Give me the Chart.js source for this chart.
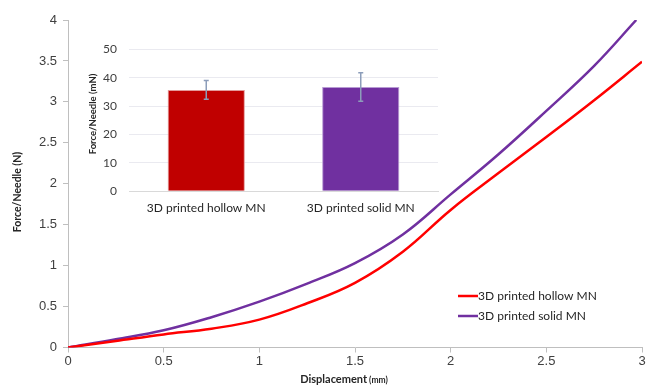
<!DOCTYPE html>
<html>
<head>
<meta charset="utf-8">
<script src="https://cdn.jsdelivr.net/npm/chart.js@4"></script>
<style>
  html, body { margin: 0; padding: 0; background: #ffffff; }
  #wrap { position: relative; width: 648px; height: 386px; }
  #main { position: absolute; left: 0; top: 0; }
  #inset { position: absolute; left: 85px; top: 38px; }
</style>
</head>
<body>
<div id="wrap">
  <canvas id="main" width="648" height="386"></canvas>
  <canvas id="inset" width="358" height="182"></canvas>
</div>
<script>
// ---- data ----
const seriesNames = ['3D printed hollow MN', '3D printed solid MN'];
const displacementHollow = [0, 0.25, 0.5, 0.75, 1, 1.25, 1.5, 1.75, 2, 2.25, 2.5, 2.75, 3];
const forceHollow        = [0, 0.08, 0.16, 0.23, 0.34, 0.54, 0.79, 1.17, 1.68, 2.13, 2.57, 3.02, 3.49];
const displacementSolid  = [0, 0.25, 0.5, 0.75, 1, 1.25, 1.5, 1.75, 2, 2.25, 2.5, 2.75, 2.97];
const forceSolid         = [0, 0.10, 0.21, 0.37, 0.56, 0.78, 1.03, 1.38, 1.87, 2.36, 2.89, 3.44, 4.0];
const xTicks = [0, 0.5, 1, 1.5, 2, 2.5, 3];
const yTicks = [0, 0.5, 1, 1.5, 2, 2.5, 3, 3.5, 4];

const barCategories = ['3D printed hollow MN', '3D printed solid MN'];
const barMeans = [35.7, 36.7];
const barErrors = [3.3, 5.0];
const barTicks = [0, 10, 20, 30, 40, 50];

const RED = '#FF0000', PURPLE = '#7030A0';
const BAR_RED = '#C00000';
const TEXT = '#404040', TITLE = '#262626', AXIS = '#BFBFBF';
const SANS = '"Liberation Sans", Arial, sans-serif';
const CAL = 'Lato, "Open Sans", sans-serif';

function pts(xs, ys) { return xs.map((x, i) => ({ x: x, y: ys[i] })); }

// ---- main chart ----
const mainDecor = {
  id: 'mainDecor',
  afterDraw(chart) {
    const ctx = chart.ctx;
    ctx.save();
    ctx.fillStyle = TITLE;
    ctx.font = 'bold 10.5px ' + CAL;
    ctx.textAlign = 'center';
    ctx.textBaseline = 'middle';
    ctx.translate(18, 192);
    ctx.rotate(-Math.PI / 2);
    ctx.fillText('Force/Needle (N)', 0, 0);
    ctx.restore();
    ctx.save();
    ctx.fillStyle = TITLE;
    ctx.textBaseline = 'alphabetic';
    const t1 = 'Displacement', t2 = ' (mm)';
    ctx.font = 'bold 11px ' + CAL;
    const w1 = ctx.measureText(t1).width;
    ctx.font = 'bold 8.5px ' + CAL;
    const w2 = ctx.measureText(t2).width;
    const cx = 344;
    const x0 = cx - (w1 + w2) / 2;
    ctx.textAlign = 'left';
    ctx.font = 'bold 11px ' + CAL;
    ctx.fillText(t1, x0, 383);
    ctx.font = 'bold 8.5px ' + CAL;
    ctx.fillText(t2, x0 + w1, 383);
    ctx.restore();
    ctx.save();
    ctx.font = '12px ' + CAL;
    ctx.textAlign = 'left';
    ctx.textBaseline = 'middle';
    chart.data.datasets.forEach((ds, i) => {
      const y = 296 + i * 20;
      ctx.strokeStyle = ds.borderColor;
      ctx.lineWidth = 2.5;
      ctx.beginPath();
      ctx.moveTo(458, y);
      ctx.lineTo(478, y);
      ctx.stroke();
      ctx.fillStyle = TITLE;
      ctx.fillText(ds.label, 478, y);
    });
    ctx.restore();
  }
};

new Chart(document.getElementById('main'), {
  type: 'line',
  data: {
    datasets: [
      { label: seriesNames[0], data: pts(displacementHollow, forceHollow), borderColor: RED, backgroundColor: RED,
        borderWidth: 2.5, pointRadius: 0, tension: 0.4, fill: false },
      { label: seriesNames[1], data: pts(displacementSolid, forceSolid), borderColor: PURPLE, backgroundColor: PURPLE,
        borderWidth: 2.5, pointRadius: 0, tension: 0.4, fill: false }
    ]
  },
  options: {
    responsive: false,
    animation: false,
    devicePixelRatio: 1,
    layout: { padding: { left: 0, right: 6, top: 20, bottom: 0 } },
    plugins: { legend: { display: false }, tooltip: { enabled: false } },
    scales: {
      x: {
        type: 'linear', min: 0, max: 3,
        afterBuildTicks: s => { s.ticks = xTicks.map(v => ({ value: v })); },
        afterFit: s => { s.height = 38.5; },
        grid: { drawOnChartArea: false, drawTicks: true, tickLength: 5, color: AXIS },
        border: { color: AXIS, width: 1 },
        ticks: { color: TEXT, font: { family: SANS, size: 13 }, padding: 1, maxRotation: 0,
                 callback: v => String(v) }
      },
      y: {
        type: 'linear', min: 0, max: 4,
        afterBuildTicks: s => { s.ticks = yTicks.map(v => ({ value: v })); },
        afterFit: s => { s.width = 68; },
        grid: { drawOnChartArea: false, drawTicks: true, tickLength: 5, color: AXIS },
        border: { color: AXIS, width: 1 },
        ticks: { color: TEXT, font: { family: SANS, size: 13 }, padding: 6,
                 callback: v => String(v) }
      }
    }
  },
  plugins: [mainDecor]
});

// ---- inset bar chart ----
const insetDecor = {
  id: 'insetDecor',
  afterDatasetsDraw(chart) {
    const ctx = chart.ctx;
    const xs = chart.scales.x, ys = chart.scales.y;
    ctx.save();
    ctx.strokeStyle = '#8C9DBA';
    ctx.lineWidth = 1.5;
    barMeans.forEach((m, i) => {
      const x = xs.getPixelForValue(i);
      const yTop = ys.getPixelForValue(m + barErrors[i]);
      const yBot = ys.getPixelForValue(m - barErrors[i]);
      ctx.beginPath();
      ctx.moveTo(x, yTop); ctx.lineTo(x, yBot);
      ctx.moveTo(x - 2.5, yTop); ctx.lineTo(x + 2.5, yTop);
      ctx.moveTo(x - 2.5, yBot); ctx.lineTo(x + 2.5, yBot);
      ctx.stroke();
    });
    ctx.restore();
  },
  afterDraw(chart) {
    const ctx = chart.ctx;
    ctx.save();
    ctx.fillStyle = TITLE;
    ctx.font = 'bold 9.5px ' + CAL;
    ctx.textAlign = 'center';
    ctx.textBaseline = 'middle';
    ctx.translate(8, 76);
    ctx.rotate(-Math.PI / 2);
    ctx.fillText('Force/Needle (mN)', 0, 0);
    ctx.restore();
  }
};

new Chart(document.getElementById('inset'), {
  type: 'bar',
  data: {
    labels: barCategories,
    datasets: [{
      data: barMeans,
      backgroundColor: [BAR_RED, PURPLE],
      borderColor: ['#E39A9A', '#B79AD3'],
      borderWidth: 1,
      barPercentage: 0.5,
      categoryPercentage: 1.0
    }]
  },
  options: {
    responsive: false,
    animation: false,
    devicePixelRatio: 1,
    layout: { padding: { left: 0, right: 5, top: 11.3, bottom: 0 } },
    plugins: { legend: { display: false }, tooltip: { enabled: false } },
    scales: {
      x: {
        afterFit: s => { s.height = 28.7; },
        grid: { display: false },
        border: { color: '#D9D9D9', width: 1 },
        ticks: { color: TITLE, font: { family: CAL, size: 12 }, padding: 2, maxRotation: 0 }
      },
      y: {
        min: 0, max: 50,
        afterBuildTicks: s => { s.ticks = barTicks.map(v => ({ value: v })); },
        afterFit: s => { s.width = 44; s.paddingTop = 8; s.paddingBottom = 8; },
        grid: { color: '#EAEAF0', drawTicks: false },
        border: { display: false },
        ticks: { color: TEXT, font: { family: CAL, size: 12 }, padding: 12 }
      }
    }
  },
  plugins: [insetDecor]
});
</script>
</body>
</html>
